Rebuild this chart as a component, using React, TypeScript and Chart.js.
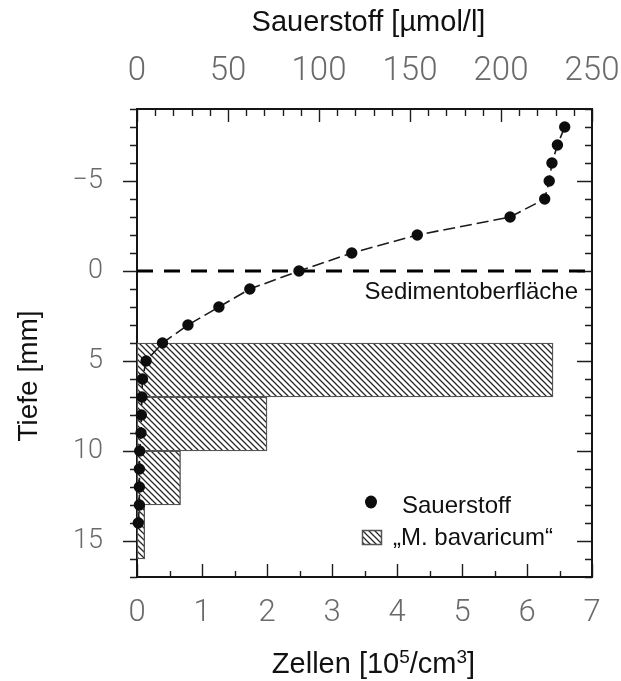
import React, { useEffect, useRef } from 'react';
import { Chart, registerables } from 'chart.js';

Chart.register(...registerables);

// Oxygen microprofile: depth [mm] (negative = overlying water) and concentration [µmol/l]
const o2Depth = [-8, -7, -6, -5, -4, -3, -2, -1, 0, 1, 2, 3, 4, 5, 6, 7, 8, 9, 10, 11, 12, 13, 14];
const o2Conc = [235, 231, 228, 226.5, 224, 205, 154, 118, 89, 62, 45, 28, 14, 5, 3, 2.7, 2.4, 2.2, 1.5, 1.3, 1.3, 1.3, 0.7];

// "M. bavaricum" cell counts per sediment slice [10^5 cells/cm^3]
const sliceTop = [4, 7, 10, 13];
const sliceBottom = [7, 10, 13, 16];
const cellCounts = [6.4, 2.0, 0.67, 0.12];

// Axis ranges and tick steps
const depthRange = [-9, 17];
const depthMajor = 5;
const depthMinor = 1;
const cellRange = [0, 7];
const cellMajor = 1;
const cellMinor = 0.5;
const o2Range = [0, 250];
const o2Major = 50;
const o2Minor = 10;
const sedimentSurface = 0;

// Text
const titleO2 = 'Sauerstoff [µmol/l]';
// bottom title as [text, superscript?] runs: Zellen [10^5/cm^3]
const titleCellsRuns: [string, boolean][] = [
  ['Zellen [10', false],
  ['5', true],
  ['/cm', false],
  ['3', true],
  [']', false],
];
const titleDepth = 'Tiefe [mm]';
const surfaceLabel = 'Sedimentoberfläche';
const legendO2 = 'Sauerstoff';
const legendCells = '„M. bavaricum“';

const SANS = '"Liberation Sans", Arial, Helvetica, sans-serif';
const TICK_FONT = 'Roboto, "Liberation Sans", sans-serif';
const TICK_COLOR = '#6a6a6a';
const INK = '#111';

function makeHatch(): CanvasPattern | string {
  const s = 6;
  const c = document.createElement('canvas');
  c.width = s;
  c.height = s;
  const g = c.getContext('2d');
  if (!g) return '#ddd';
  g.fillStyle = '#fff';
  g.fillRect(0, 0, s, s);
  g.strokeStyle = '#262626';
  g.lineWidth = 1.25;
  g.beginPath();
  g.moveTo(-1, -1);
  g.lineTo(s + 1, s + 1);
  g.moveTo(-1, s - 1);
  g.lineTo(1, s + 1);
  g.moveTo(s - 1, -1);
  g.lineTo(s + 1, 1);
  g.stroke();
  return g.createPattern(c, 'repeat') || '#ddd';
}

function steps(min: number, max: number, step: number): number[] {
  const out: number[] = [];
  const n = Math.round((max - min) / step);
  for (let i = 0; i <= n; i++) out.push(min + i * step);
  return out;
}

function isMajor(v: number, major: number) {
  return Math.abs(v / major - Math.round(v / major)) < 1e-6;
}

// Box frame with ticks: depth ticks outside left / inside right,
// cell ticks inside along the bottom, oxygen ticks inside along the top.
const frameTicks = {
  id: 'frameTicks',
  beforeDatasetsDraw(chart: any) {
    const { ctx, chartArea: a, scales } = chart;
    const ys = scales.y;
    const xb = scales.x;
    const xt = scales.x2;
    ctx.save();
    ctx.strokeStyle = '#1e1e1e';
    ctx.lineWidth = 1.4;
    ctx.beginPath();
    for (const v of steps(depthRange[0], depthRange[1], depthMinor)) {
      const p = Math.round(ys.getPixelForValue(v)) + 0.5;
      const major = isMajor(v, depthMajor);
      const outLen = major ? 14 : 7;
      const inLen = major ? 15 : 7;
      ctx.moveTo(a.left - outLen, p);
      ctx.lineTo(a.left, p);
      ctx.moveTo(a.right - inLen, p);
      ctx.lineTo(a.right, p);
    }
    for (const v of steps(cellRange[0], cellRange[1], cellMinor)) {
      const p = Math.round(xb.getPixelForValue(v)) + 0.5;
      const len = isMajor(v, cellMajor) ? 13 : 6;
      ctx.moveTo(p, a.bottom);
      ctx.lineTo(p, a.bottom - len);
    }
    for (const v of steps(o2Range[0], o2Range[1], o2Minor)) {
      const p = Math.round(xt.getPixelForValue(v)) + 0.5;
      const len = isMajor(v, o2Major) ? 13 : 7;
      ctx.moveTo(p, a.top);
      ctx.lineTo(p, a.top + len);
    }
    ctx.stroke();
    ctx.lineWidth = 2;
    ctx.strokeStyle = '#151515';
    ctx.strokeRect(a.left, a.top, a.right - a.left, a.bottom - a.top);
    ctx.restore();
  },
};

// draws text runs centred on cx, with raised smaller runs for exponents
function drawRuns(ctx: CanvasRenderingContext2D, runs: [string, boolean][], cx: number, y: number, size: number) {
  const supSize = Math.round(size * 0.66);
  const fontFor = (sup: boolean) => `${sup ? supSize : size}px ${SANS}`;
  let total = 0;
  const widths = runs.map(([t, sup]) => {
    ctx.font = fontFor(sup);
    const w = ctx.measureText(t).width;
    total += w;
    return w;
  });
  let x = cx - total / 2;
  ctx.textAlign = 'left';
  runs.forEach(([t, sup], i) => {
    ctx.font = fontFor(sup);
    ctx.fillText(t, x, sup ? y - size * 0.36 : y);
    x += widths[i];
  });
}

// Axis titles, surface label and the in-plot legend
const annotations = {
  id: 'annotations',
  afterDraw(chart: any) {
    const { ctx, chartArea: a, scales } = chart;
    const cx = (a.left + a.right) / 2;
    const ds = chart.data.datasets;
    ctx.save();
    ctx.fillStyle = INK;

    ctx.font = `29px ${SANS}`;
    ctx.textAlign = 'center';
    ctx.textBaseline = 'alphabetic';
    ctx.fillText(titleO2, cx + 4, 31);
    drawRuns(ctx, titleCellsRuns, cx + 9, 673, 29);

    ctx.save();
    ctx.font = `28px ${SANS}`;
    ctx.textAlign = 'center';
    ctx.translate(37, (a.top + a.bottom) / 2 + 33);
    ctx.rotate(-Math.PI / 2);
    ctx.fillText(titleDepth, 0, 0);
    ctx.restore();

    // label under the sediment surface line
    const ySurf = scales.y.getPixelForValue(sedimentSurface);
    ctx.font = `24px ${SANS}`;
    ctx.textAlign = 'right';
    ctx.fillText(surfaceLabel, a.right - 14, ySurf + 28);

    // legend
    ctx.textAlign = 'left';
    const dotX = a.right - 221;
    const dotY = a.bottom - 75;
    ctx.fillStyle = ds[0].pointBackgroundColor;
    ctx.beginPath();
    ctx.ellipse(dotX, dotY, 6, 6.5, 0, 0, Math.PI * 2);
    ctx.fill();
    ctx.fillStyle = INK;
    ctx.fillText(legendO2, a.right - 190, a.bottom - 64);

    const bx = a.right - 230;
    const by = a.bottom - 47;
    ctx.fillStyle = ds[2].backgroundColor;
    ctx.fillRect(bx, by, 20, 15);
    ctx.strokeStyle = ds[2].borderColor;
    ctx.lineWidth = 1.5;
    ctx.strokeRect(bx + 0.5, by + 0.5, 19, 14);
    ctx.fillStyle = INK;
    ctx.fillText(legendCells, a.right - 199, a.bottom - 32);
    ctx.restore();
  },
};

const minusFmt = (v: number | string) => {
  const n = Number(v);
  return n < 0 ? `\u2212${Math.abs(n)}` : String(n);
};

// fixed axis box sizes; label overhang is absorbed by the layout padding
const fixWidth = (w: number) => (s: any) => {
  s.width = w;
  s.paddingTop = 0;
  s.paddingBottom = 0;
};
const fixHeight = (h: number) => (s: any) => {
  s.height = h;
  s.paddingLeft = 0;
  s.paddingRight = 0;
};

export default function App() {
  const ref = useRef<HTMLCanvasElement | null>(null);

  useEffect(() => {
    const canvas = ref.current;
    if (!canvas) return;
    const hatch = makeHatch();

    const chart = new Chart(canvas, {
      type: 'bar',
      data: {
        datasets: [
          {
            type: 'line',
            label: legendO2,
            data: o2Depth.map((d, i) => ({ x: o2Conc[i], y: d })),
            xAxisID: 'x2',
            yAxisID: 'y',
            borderColor: '#1a1a1a',
            borderWidth: 1.6,
            borderDash: [12, 5],
            pointRadius: 5.7,
            pointBackgroundColor: '#0d0d0d',
            pointBorderWidth: 0,
            pointHoverRadius: 5.7,
            fill: false,
            tension: 0,
            clip: false,
            order: 0,
          } as any,
          {
            type: 'line',
            label: surfaceLabel,
            data: [
              { x: o2Range[0], y: sedimentSurface },
              { x: o2Range[1], y: sedimentSurface },
            ],
            xAxisID: 'x2',
            yAxisID: 'y',
            borderColor: '#000',
            borderWidth: 3,
            borderDash: [16, 11],
            pointRadius: 0,
            fill: false,
            order: 1,
          } as any,
          {
            type: 'bar',
            label: legendCells,
            data: cellCounts.map((c, i) => ({ x: c, y: (sliceTop[i] + sliceBottom[i]) / 2 })),
            xAxisID: 'x',
            yAxisID: 'y',
            backgroundColor: hatch,
            borderColor: '#555',
            borderWidth: 1.4,
            borderSkipped: false,
            barPercentage: 1,
            categoryPercentage: 1,
            order: 2,
          } as any,
        ],
      },
      options: {
        indexAxis: 'y',
        animation: false,
        responsive: false,
        events: [],
        layout: { padding: { left: 0, right: 29, top: 0, bottom: 0 } },
        plugins: {
          legend: { display: false },
          tooltip: { enabled: false },
          title: { display: false },
        },
        scales: {
          y: {
            type: 'linear',
            position: 'left',
            reverse: true,
            min: depthRange[0],
            max: depthRange[1],
            offset: false,
            grid: { display: false, drawTicks: false },
            border: { display: false },
            ticks: {
              stepSize: depthMajor,
              includeBounds: false,
              padding: 34,
              color: TICK_COLOR,
              font: { family: TICK_FONT, size: 27, weight: '300' },
              callback: (v: any) => minusFmt(v),
            },
            afterFit: fixWidth(137),
          },
          x: {
            type: 'linear',
            position: 'bottom',
            min: cellRange[0],
            max: cellRange[1],
            offset: false,
            grid: { display: false, drawTicks: false },
            border: { display: false },
            ticks: {
              stepSize: cellMajor,
              includeBounds: false,
              padding: 18,
              maxRotation: 0,
              autoSkip: false,
              color: TICK_COLOR,
              font: { family: TICK_FONT, size: 31, weight: '300' },
            },
            afterFit: fixHeight(104),
          },
          x2: {
            type: 'linear',
            axis: 'x',
            position: 'top',
            min: o2Range[0],
            max: o2Range[1],
            offset: false,
            grid: { display: false, drawTicks: false },
            border: { display: false },
            ticks: {
              stepSize: o2Major,
              includeBounds: false,
              padding: 17,
              maxRotation: 0,
              autoSkip: false,
              color: TICK_COLOR,
              font: { family: TICK_FONT, size: 33, weight: '300' },
            },
            afterFit: fixHeight(109),
          },
        } as any,
      },
      plugins: [frameTicks, annotations],
    } as any);

    return () => chart.destroy();
  }, []);

  return (
    <div style={{ position: 'fixed', left: 0, top: 0, width: 621, height: 681, background: '#fff' }}>
      <canvas ref={ref} width={621} height={681} style={{ display: 'block' }} />
    </div>
  );
}
